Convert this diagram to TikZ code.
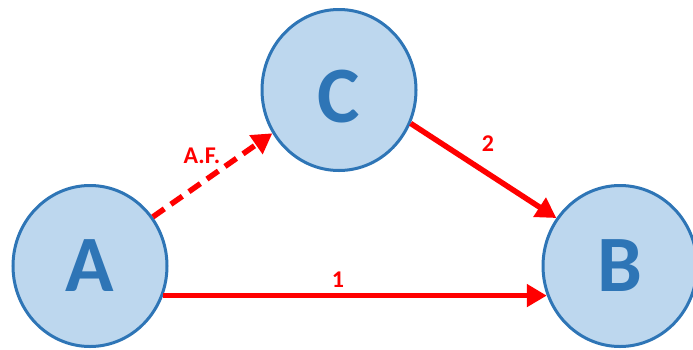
\documentclass[tikz,border=0pt]{standalone}
\usepackage{fontspec}
\setmainfont{Carlito}
\usetikzlibrary{arrows.meta,shapes.geometric}
\definecolor{nodeblue}{HTML}{2E75B6}
\definecolor{nodefill}{HTML}{BDD7EE}
\definecolor{arrred}{HTML}{FF0000}
\begin{document}
\begin{tikzpicture}[x=1pt,y=-1pt,
  state/.style={ellipse, draw=nodeblue, fill=nodefill, line width=3pt,
    minimum width=154pt, minimum height=161pt, inner sep=0pt,
    text=nodeblue, font=\fontsize{80}{80}\selectfont\bfseries},
  link/.style={draw=arrred, line width=5.5pt, -{Triangle[length=20pt,width=22pt]}},
  lbl/.style={text=arrred, font=\fontsize{24}{24}\selectfont\bfseries, inner sep=0pt}]
\useasboundingbox (0,0) rectangle (693,349);
\node[state] (A) at (90,266) {A};
\node[state, text height=64pt, text depth=0pt] (C) at (339,90) {C};
\node[state] (B) at (620,266) {B};
\draw[link] (A.-22) -- (B.-158);
\draw[link] (C.-25) -- (B.143);
\draw[link, dash pattern=on 14pt off 8pt] (A.38) -- (C.-147);
\node[lbl] (l1) at (338,280) {1};
\node[lbl] (l2) at (488,144) {2};
\node[lbl] (laf) at (202,156) {A.F.};
\end{tikzpicture}
\end{document}
